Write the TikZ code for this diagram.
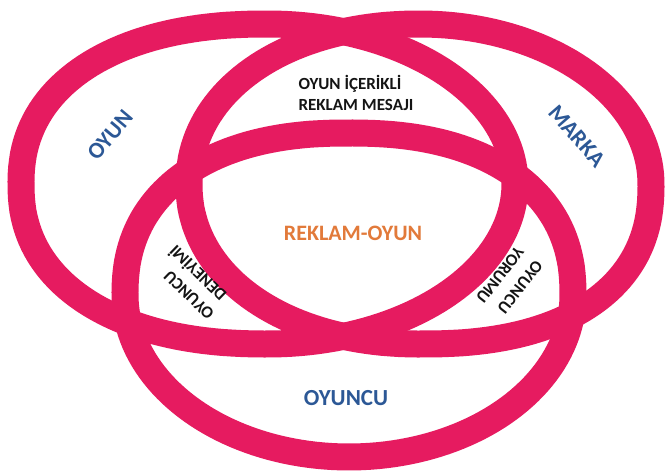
\documentclass[tikz,border=0pt]{standalone}
\usepackage{fontspec}
\setmainfont{Carlito}
\definecolor{ringc}{RGB}{230,27,96}
\definecolor{bluec}{RGB}{44,88,150}
\definecolor{orangec}{RGB}{226,122,58}
\definecolor{textc}{RGB}{20,20,20}
\begin{document}
\begin{tikzpicture}[x=1pt,y=-1pt,
  declare function={
    leftN(\t) = (cos(\t)<0) ? 2.25 : 2.0;
    rightN(\t) = (cos(\t)<0) ? 2.1 : ((sin(\t)>0) ? 2.35 : 2.0);
    botN(\t) = (sin(\t)>0) ? 2.0 : 2.3;
    sx(\t,\n) = ((cos(\t)<0) ? -1 : 1)*pow(abs(cos(\t)),2/\n);
    sy(\t,\n) = ((sin(\t)<0) ? -1 : 1)*pow(abs(sin(\t)),2/\n);
  },
  ringline/.style={draw=ringc, line width=27pt, line join=round},
  biglabel/.style={text=bluec, inner sep=0pt, font=\fontsize{23}{27}\selectfont\bfseries},
  midlabel/.style={text=orangec, inner sep=0pt, font=\fontsize{22}{26}\selectfont\bfseries},
  smalllabel/.style={text=textc, inner sep=0pt, align=left, font=\fontsize{17}{21}\selectfont\bfseries}]
\useasboundingbox (0,0) rectangle (665,474);
\fill[white] (0,0) rectangle (665,474);
% rings: OYUN (left), MARKA (right), OYUNCU (bottom)
\draw[ringline] plot[domain=0.5:360.5, samples=181, variable=\t]
  ({268+247*sx(\t,leftN(\t))}, {184+160*sy(\t,leftN(\t))}) -- cycle;
\draw[ringline] plot[domain=0.5:360.5, samples=181, variable=\t]
  ({420+231*sx(\t,rightN(\t))}, {184+160*sy(\t,rightN(\t))}) -- cycle;
\draw[ringline] plot[domain=0.5:360.5, samples=181, variable=\t]
  ({349+224*sx(\t,botN(\t))}, {295+162*sy(\t,botN(\t))}) -- cycle;
% labels
\node[biglabel, rotate=50] (oyun) at (110,135) {OYUN};
\node[biglabel, rotate=-49] (marka) at (577,136) {MARKA};
\node[biglabel] (oyuncu) at (346,398) {OYUNCU};
\node[midlabel] (reklamoyun) at (353,233) {REKLAM-OYUN};
\node[smalllabel] (mesaj) at (356,93) {OYUN İÇERİKLİ\\REKLAM MESAJI};
\node[smalllabel, rotate=136] (deneyim1) at (189,295) {OYUNCU};
\node[smalllabel, rotate=136] (deneyim2) at (197,274) {DENEYİMİ};
\node[smalllabel, rotate=-128] (yorum1) at (520,287) {OYUNCU};
\node[smalllabel, rotate=-128] (yorum2) at (500,275) {YORUMU};
\end{tikzpicture}
\end{document}
